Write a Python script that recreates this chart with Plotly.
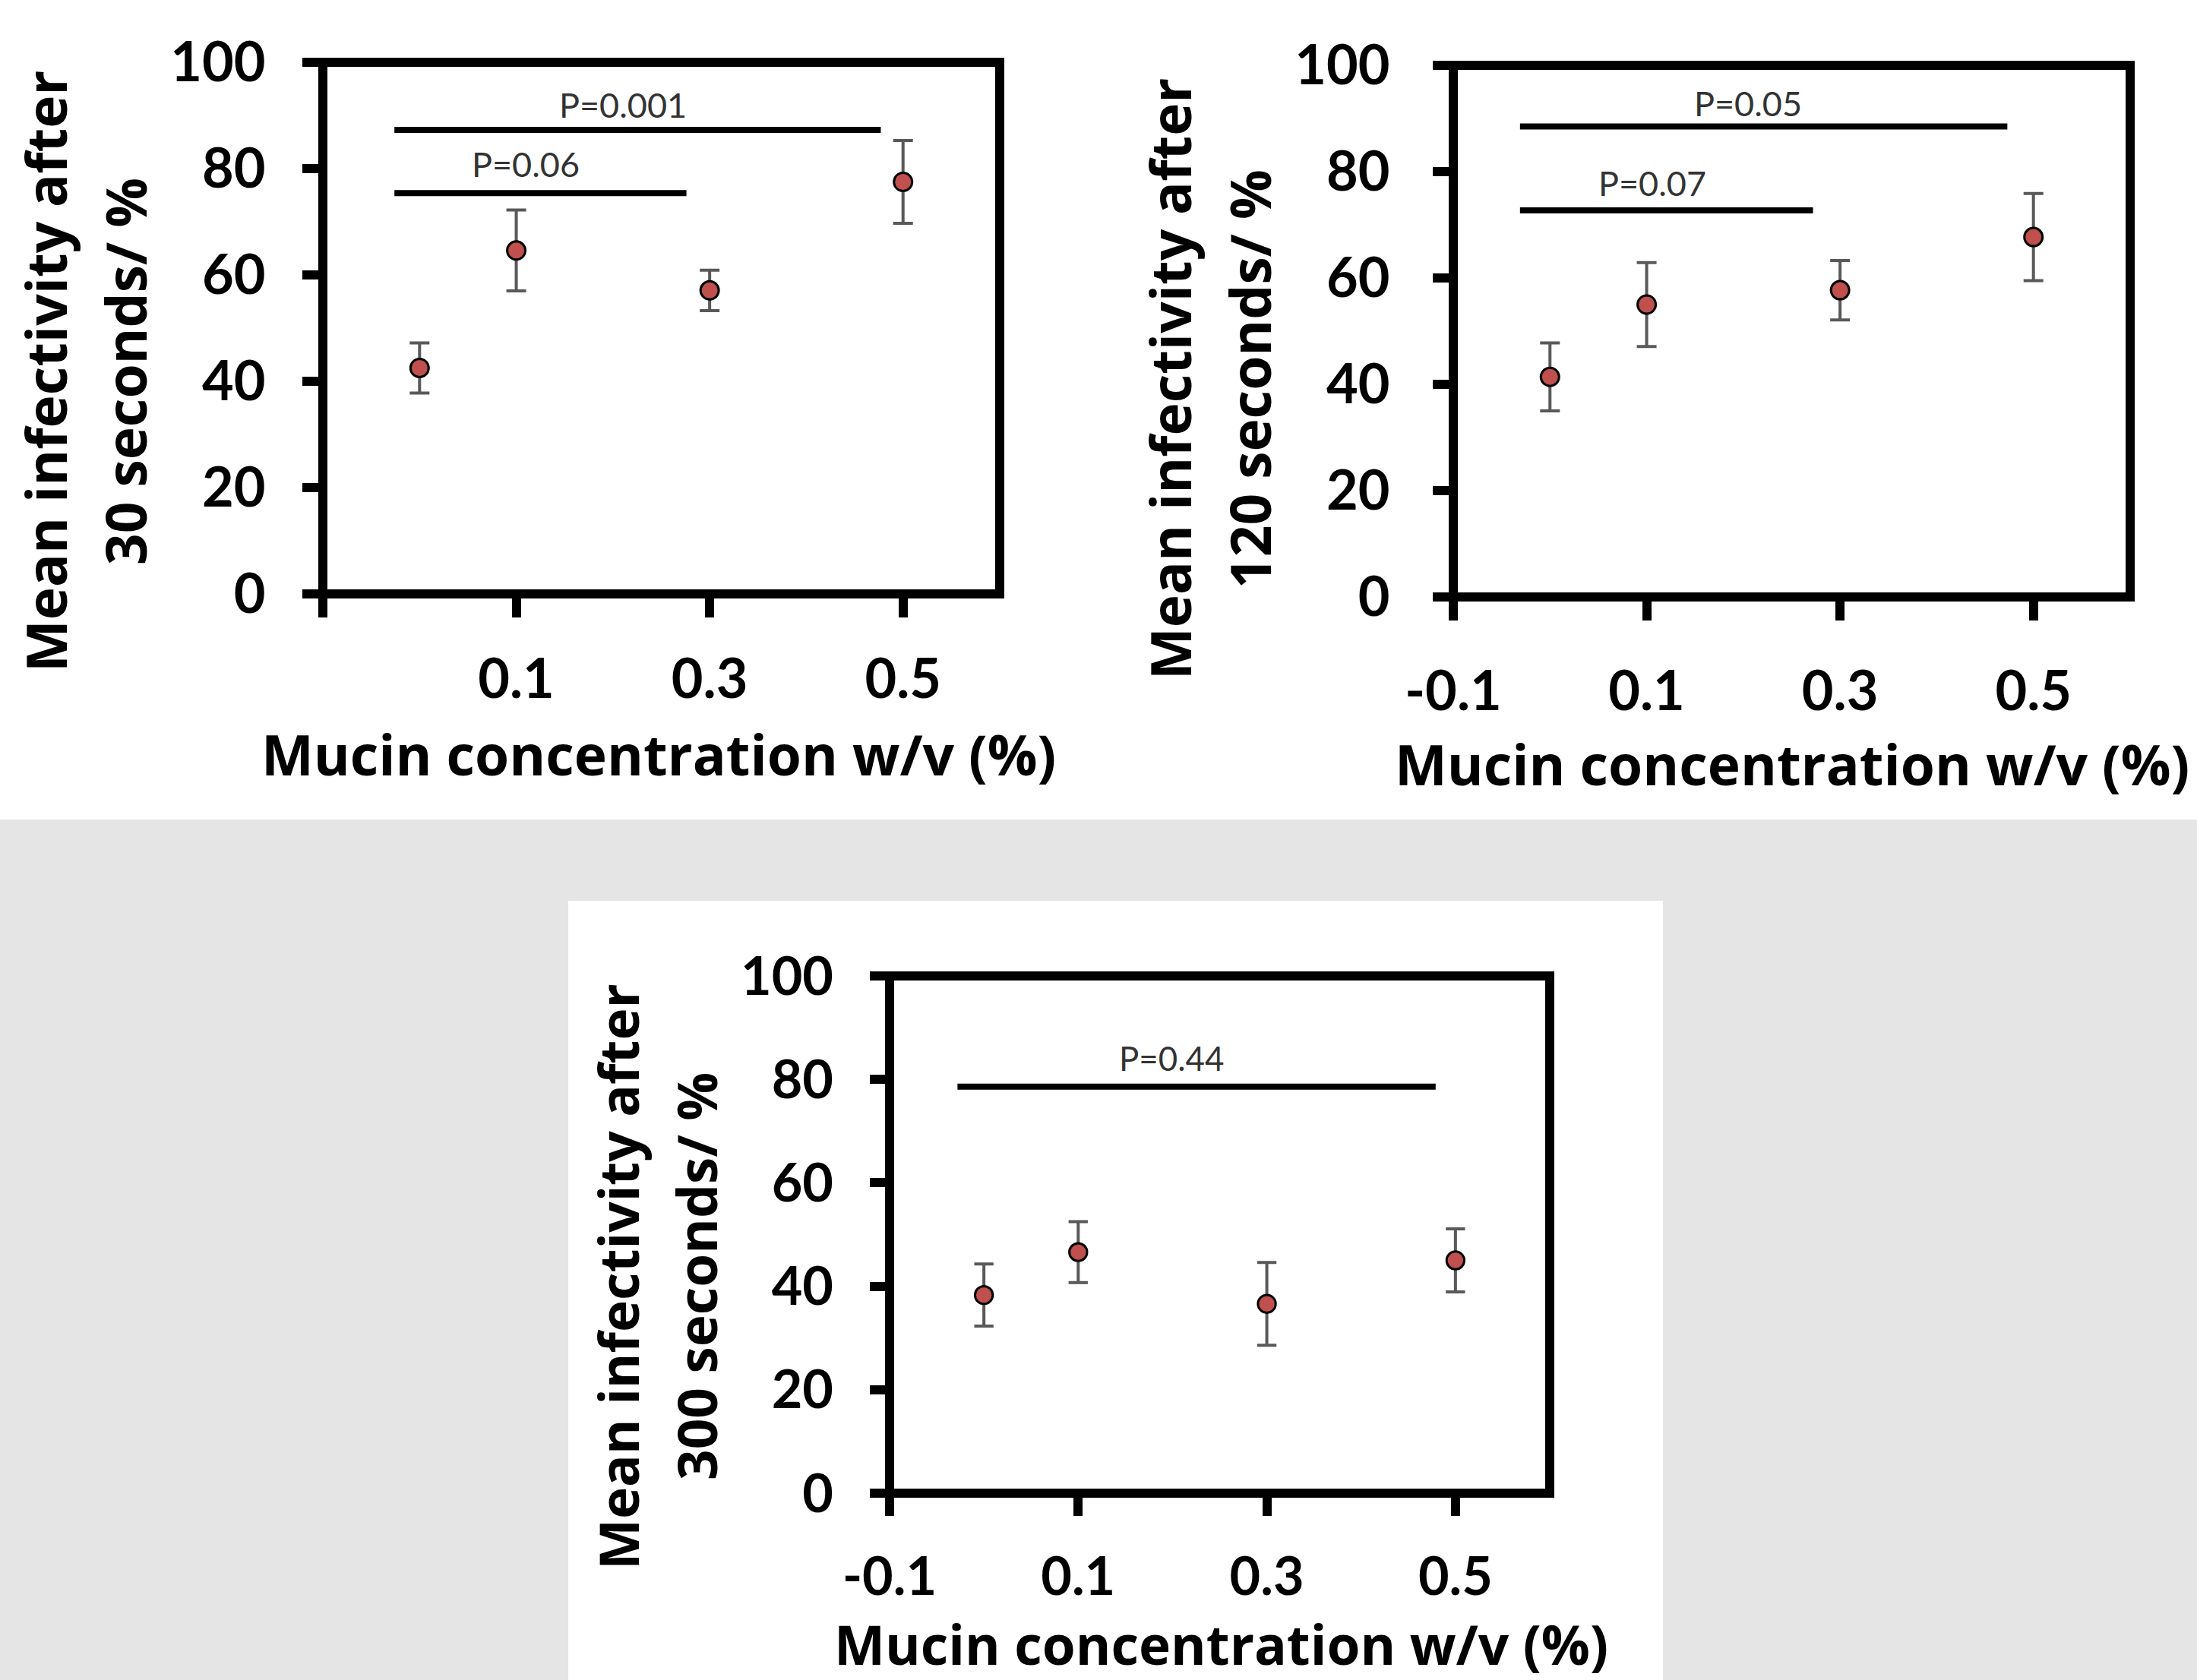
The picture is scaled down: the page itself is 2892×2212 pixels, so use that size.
import plotly.graph_objects as go

W, H = 2892, 2212

# ---------------- data ----------------
conc = [0, 0.1, 0.3, 0.5]

inf_30s = [42.5, 64.6, 57.1, 77.5]
err_30s = [4.7, 7.6, 3.8, 7.8]

inf_120s = [41.4, 55.0, 57.7, 67.7]
err_120s = [6.4, 7.9, 5.6, 8.2]

inf_300s = [38.3, 46.6, 36.6, 45.0]
err_300s = [6.0, 5.9, 8.0, 6.1]

x_tickvals = [-0.1, 0.1, 0.3, 0.5]
x_ticktext_first = ["", "0.1", "0.3", "0.5"]
x_ticktext = ["-0.1", "0.1", "0.3", "0.5"]
y_tickvals = [0, 20, 40, 60, 80, 100]

x_title = "Mucin concentration w/v (%)"
y_title_30s = ["Mean infectivity after", "30 seconds/ %"]
y_title_120s = ["Mean infectivity after", "120 seconds/ %"]
y_title_300s = ["Mean infectivity after", "300 seconds/ %"]

# significance bars: start, end, height, label, label x, label y
sig_30s_x0 = [-0.026, -0.026]
sig_30s_x1 = [0.477, 0.276]
sig_30s_y = [87.3, 75.4]
sig_30s_text = ["P=0.001", "P=0.06"]
sig_30s_tx = [0.21, 0.11]
sig_30s_ty = [92.0, 80.8]

sig_120s_x0 = [-0.031, -0.031]
sig_120s_x1 = [0.473, 0.272]
sig_120s_y = [88.5, 72.7]
sig_120s_text = ["P=0.05", "P=0.07"]
sig_120s_tx = [0.205, 0.106]
sig_120s_ty = [92.8, 77.8]

sig_300s_x0 = [-0.028]
sig_300s_x1 = [0.479]
sig_300s_y = [78.6]
sig_300s_text = ["P=0.44"]
sig_300s_tx = [0.199]
sig_300s_ty = [84.2]

# ---------------- layout geometry (pixels) ----------------
panels = [
    dict(y=inf_30s, e=err_30s, box=(425, 1316, 82, 782), s=1.0,
         ticktext=x_ticktext_first, ytitle=y_title_30s, ytx=(59, 164), yty=489, xtpos=(867, 992),
         xsoff=20, ysoff=34,
         sx0=sig_30s_x0, sx1=sig_30s_x1, sy=sig_30s_y, st=sig_30s_text, stx=sig_30s_tx, sty=sig_30s_ty),
    dict(y=inf_120s, e=err_120s, box=(1913, 2804, 86, 786), s=1.0,
         ticktext=x_ticktext, ytitle=y_title_120s, ytx=(1539, 1644), yty=499, xtpos=(2359, 1005),
         xsoff=32, ysoff=42,
         sx0=sig_120s_x0, sx1=sig_120s_x1, sy=sig_120s_y, st=sig_120s_text, stx=sig_120s_tx, sty=sig_120s_ty),
    dict(y=inf_300s, e=err_300s, box=(1171, 2040, 1285, 1966), s=0.974,
         ticktext=x_ticktext, ytitle=y_title_300s, ytx=(813, 916), yty=1681, xtpos=(1607, 2164),
         xsoff=20, ysoff=34,
         sx0=sig_300s_x0, sx1=sig_300s_x1, sy=sig_300s_y, st=sig_300s_text, stx=sig_300s_tx, sty=sig_300s_ty),
]

FONT_TICK = "Lato"
FONT_TITLE = "Open Sans"
fig = go.Figure()
shapes = []
annotations = []
layout = {}

# background: grey band with white card behind third panel
shapes.append(dict(type="rect", xref="paper", yref="paper", x0=0, x1=1, y0=0, y1=1 - 1079 / H,
                   fillcolor="#e5e5e5", line=dict(width=0), layer="below"))
shapes.append(dict(type="rect", xref="paper", yref="paper", x0=748 / W, x1=2189 / W, y0=0, y1=1 - 1186 / H,
                   fillcolor="white", line=dict(width=0), layer="below"))

for i, p in enumerate(panels, start=1):
    sfx = "" if i == 1 else str(i)
    xa, ya = "x" + sfx, "y" + sfx
    s = p["s"]
    l, r, t, b = p["box"]

    fig.add_trace(go.Scatter(
        x=conc, y=p["y"], mode="markers", xaxis=xa, yaxis=ya, showlegend=False,
        cliponaxis=False,
        marker=dict(symbol="circle", size=24 * s, color="#c0504d", line=dict(color="black", width=3)),
        error_y=dict(type="data", array=p["e"], visible=True, color="#595959", thickness=4, width=13 * s),
    ))

    tickfont = dict(family=FONT_TICK, size=72 * s, color="black", weight="bold")
    layout["xaxis" + sfx] = dict(
        domain=[l / W, r / W], range=[-0.1, 0.6], anchor=ya,
        tickmode="array", tickvals=x_tickvals, ticktext=p["ticktext"],
        ticks="outside", ticklen=round(30 * s), tickwidth=12, tickcolor="black",
        showline=False, showgrid=False, zeroline=False, tickfont=tickfont,
        ticklabelstandoff=int(p["xsoff"]), fixedrange=True, automargin=False,
    )
    layout["yaxis" + sfx] = dict(
        domain=[1 - b / H, 1 - t / H], range=[0, 100], anchor=xa,
        tickmode="array", tickvals=y_tickvals,
        ticks="outside", ticklen=round(26 * s), tickwidth=12, tickcolor="black",
        showline=False, showgrid=False, zeroline=False, tickfont=tickfont,
        ticklabelstandoff=int(p["ysoff"]), fixedrange=True, automargin=False,
    )

    # plot frame
    shapes.append(dict(type="rect", xref=xa + " domain", yref=ya + " domain", x0=0, x1=1, y0=0, y1=1,
                       line=dict(color="black", width=12), layer="above"))

    # significance bars
    for x0, x1, yy in zip(p["sx0"], p["sx1"], p["sy"]):
        shapes.append(dict(type="line", xref=xa, yref=ya, x0=x0, x1=x1, y0=yy, y1=yy,
                           line=dict(color="black", width=8)))
    for txt, tx, ty in zip(p["st"], p["stx"], p["sty"]):
        annotations.append(dict(xref=xa, yref=ya, x=tx, y=ty, text=txt, showarrow=False,
                                xanchor="center", yanchor="middle",
                                font=dict(family=FONT_TICK, size=45 * s, color="#333333")))

    # axis titles
    title_font = dict(family=FONT_TITLE, size=73 * s, color="black", weight="bold")
    annotations.append(dict(xref="paper", yref="paper", x=p["xtpos"][0] / W, y=1 - p["xtpos"][1] / H,
                            text=x_title, showarrow=False, xanchor="center", yanchor="middle",
                            font=title_font))
    for line_txt, lx in zip(p["ytitle"], p["ytx"]):
        annotations.append(dict(xref="paper", yref="paper", x=lx / W, y=1 - p["yty"] / H,
                                text=line_txt, showarrow=False, xanchor="center", yanchor="middle",
                                textangle=-90, font=title_font))

fig.update_layout(
    width=W, height=H, autosize=False,
    margin=dict(l=0, r=0, t=0, b=0, pad=0, autoexpand=False),
    paper_bgcolor="white", plot_bgcolor="white",
    shapes=shapes, annotations=annotations,
    **layout,
)

fig.write_html(
    "out.html",
    config={"displayModeBar": False, "staticPlot": True},
    post_script="document.body.style.margin='0px';document.body.style.overflow='hidden';",
)
